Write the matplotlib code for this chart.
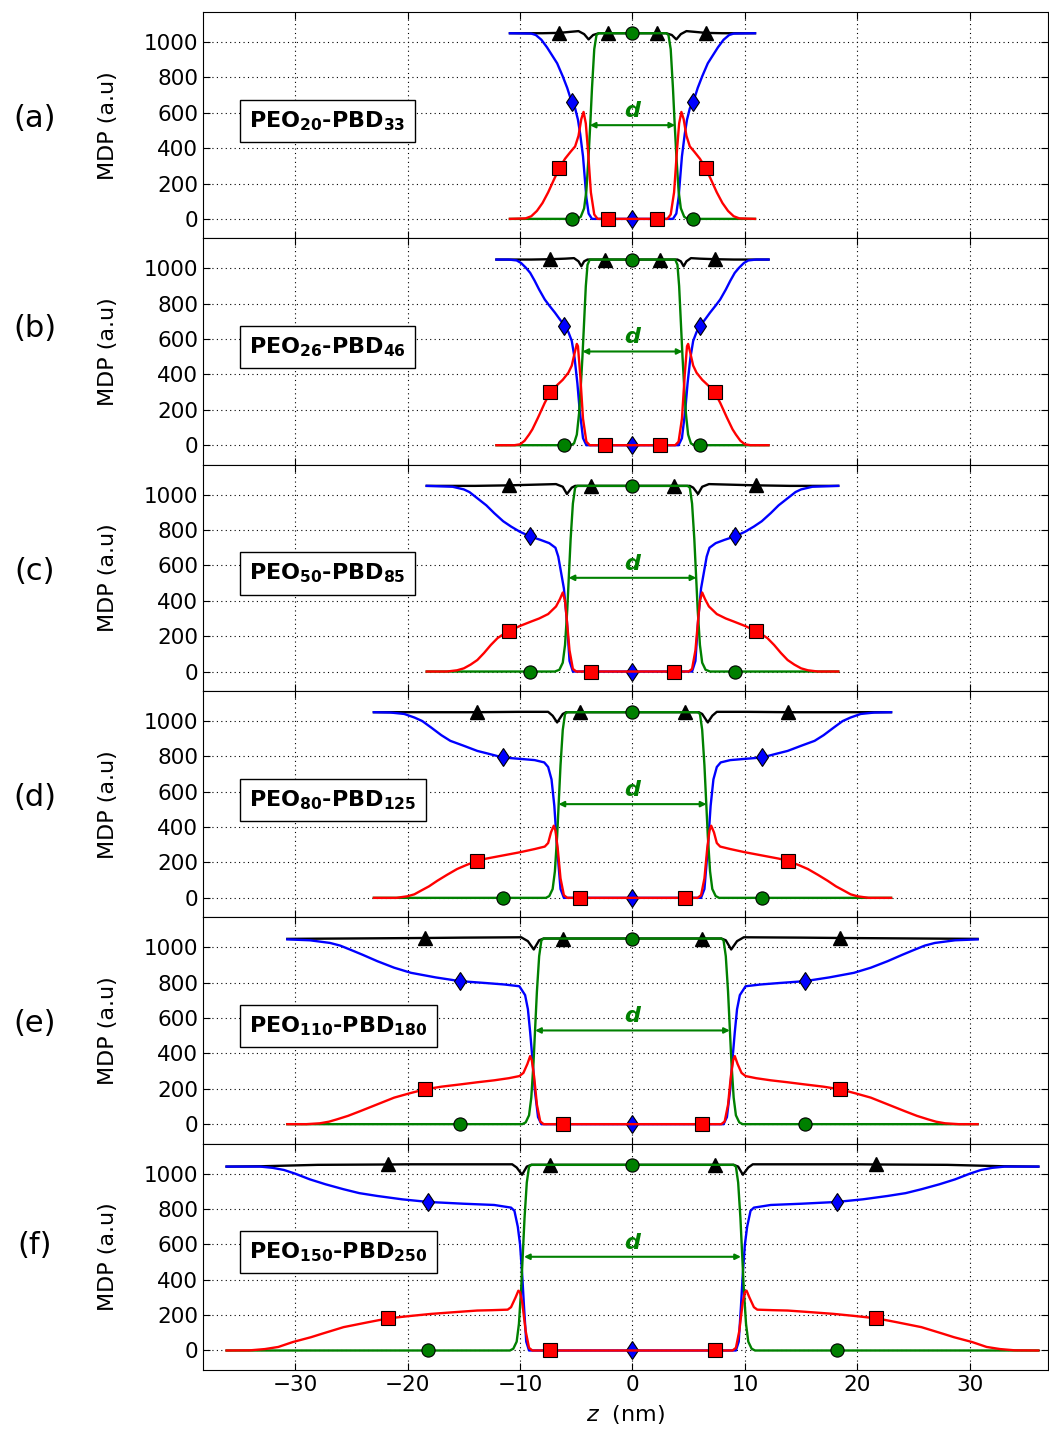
import numpy as np
import matplotlib
matplotlib.use('Agg')
import matplotlib.pyplot as plt

# half profiles (z >= 0); the profiles are symmetric in z
a_black = [(0, 1050), (2.2, 1050), (3.0, 1050), (3.5, 1040), (3.9, 1015), (4.3, 1045), (4.8, 1062), (5.5, 1058), (6.5, 1052), (8.0, 1050), (10.9, 1050)]
a_blue = [(0, 0), (3.6, 0), (3.9, 30), (4.1, 120), (4.4, 354), (4.65, 480), (4.85, 561), (5.1, 625), (5.4, 660), (5.8, 740), (6.2, 806), (6.7, 880), (7.1, 920), (7.6, 970), (8.1, 1013), (8.6, 1040), (9.0, 1048), (10.9, 1050)]
a_green = [(0, 1050), (3.0, 1050), (3.2, 1040), (3.4, 960), (3.6, 740), (3.75, 540), (3.9, 360), (4.1, 160), (4.3, 60), (4.6, 12), (4.9, 0), (5.4, 0), (10.9, 0)]
a_red = [(0, 0), (2.2, 0), (3.1, 0), (3.4, 25), (3.7, 150), (3.95, 380), (4.15, 540), (4.35, 605), (4.55, 565), (4.8, 470), (5.1, 410), (5.5, 380), (6.0, 340), (6.5, 288), (7.0, 220), (7.5, 150), (8.0, 90), (8.5, 45), (9.0, 15), (9.5, 3), (10.9, 0)]

b_black = [(0, 1050), (2.45, 1050), (4.0, 1050), (4.3, 1040), (4.55, 1012), (4.8, 1040), (5.2, 1058), (6.0, 1055), (7.3, 1052), (9.0, 1050), (12.1, 1050)]
b_blue = [(0, 0), (4.1, 0), (4.4, 40), (4.7, 200), (4.9, 350), (5.15, 494), (5.4, 590), (5.7, 640), (6.05, 677), (6.5, 715), (6.9, 750), (7.4, 790), (7.8, 824), (8.3, 880), (8.7, 930), (9.1, 975), (9.5, 1005), (9.9, 1030), (10.3, 1045), (11.0, 1050), (12.1, 1050)]
b_green = [(0, 1050), (3.8, 1050), (4.0, 1020), (4.15, 900), (4.3, 700), (4.45, 500), (4.6, 330), (4.75, 180), (4.95, 60), (5.2, 10), (5.5, 0), (6.05, 0), (12.1, 0)]
b_red = [(0, 0), (2.45, 0), (3.8, 0), (4.1, 20), (4.4, 150), (4.65, 400), (4.85, 560), (4.95, 573), (5.15, 520), (5.4, 450), (5.7, 410), (6.2, 370), (6.7, 340), (7.3, 300), (7.8, 240), (8.4, 156), (8.9, 90), (9.2, 60), (9.6, 25), (10.0, 5), (10.5, 0), (12.1, 0)]

c_black = [(0, 1050), (3.65, 1050), (5.1, 1050), (5.4, 1040), (5.83, 1004), (6.2, 1045), (6.8, 1060), (8.0, 1058), (10.95, 1053), (14.0, 1050), (18.3, 1050)]
c_blue = [(0, 0), (5.3, 0), (5.6, 60), (5.85, 300), (6.1, 470), (6.35, 560), (6.6, 650), (6.85, 700), (7.4, 726), (8.2, 745), (9.1, 764), (10.0, 790), (10.8, 820), (11.5, 850), (12.3, 896), (13.0, 940), (13.8, 980), (14.5, 1015), (15.0, 1030), (16.0, 1045), (18.3, 1050)]
c_green = [(0, 1050), (4.9, 1050), (5.1, 1040), (5.3, 950), (5.5, 750), (5.65, 550), (5.8, 350), (6.0, 150), (6.2, 50), (6.5, 10), (6.9, 0), (9.1, 0), (18.3, 0)]
c_red = [(0, 0), (3.65, 0), (5.0, 0), (5.3, 15), (5.6, 120), (5.85, 300), (6.0, 400), (6.2, 447), (6.45, 410), (6.8, 368), (7.5, 325), (8.3, 300), (9.0, 283), (10.0, 258), (10.95, 230), (11.5, 210), (12.0, 189), (12.6, 150), (13.2, 105), (13.8, 65), (14.4, 39), (15.0, 18), (15.6, 7), (16.5, 0), (18.3, 0)]

d_black = [(0, 1050), (4.65, 1050), (5.9, 1050), (6.2, 1040), (6.7, 992), (7.1, 1030), (7.5, 1052), (10.0, 1052), (13.8, 1050), (23.0, 1050)]
d_blue = [(0, 0), (6.1, 0), (6.4, 50), (6.7, 280), (6.95, 520), (7.2, 670), (7.5, 740), (7.85, 766), (8.7, 779), (10.0, 786), (11.55, 794), (12.8, 815), (13.8, 831), (15.0, 860), (16.2, 888), (17.0, 920), (17.9, 963), (18.7, 1000), (19.4, 1020), (20.3, 1040), (21.5, 1048), (23.0, 1050)]
d_green = [(0, 1050), (5.8, 1050), (6.0, 1040), (6.2, 950), (6.4, 750), (6.55, 550), (6.7, 350), (6.9, 150), (7.1, 50), (7.4, 10), (7.7, 0), (11.55, 0), (23.0, 0)]
d_red = [(0, 0), (4.65, 0), (5.8, 0), (6.1, 15), (6.4, 110), (6.65, 280), (6.85, 380), (7.0, 408), (7.25, 370), (7.5, 310), (7.8, 290), (8.7, 276), (10.0, 258), (11.5, 240), (13.0, 222), (13.8, 210), (14.8, 185), (15.6, 163), (16.5, 130), (17.35, 97), (18.1, 65), (18.8, 41), (19.4, 20), (20.0, 9), (21.0, 0), (23.0, 0)]

e_black = [(0, 1050), (6.2, 1050), (7.9, 1050), (8.3, 1040), (8.78, 988), (9.3, 1035), (9.9, 1057), (15.0, 1055), (18.45, 1053), (30.7, 1048)]
e_blue = [(0, 0), (8.1, 0), (8.4, 40), (8.7, 200), (8.9, 370), (9.1, 520), (9.3, 650), (9.55, 730), (10.06, 780), (11.4, 790), (13.0, 798), (15.35, 809), (17.5, 830), (19.7, 856), (21.2, 885), (22.7, 922), (24.0, 958), (25.1, 987), (26.0, 1010), (26.9, 1025), (28.7, 1040), (30.7, 1045)]
e_green = [(0, 1050), (7.9, 1050), (8.1, 1040), (8.3, 950), (8.5, 750), (8.65, 550), (8.8, 350), (9.0, 150), (9.2, 50), (9.5, 10), (9.8, 0), (15.35, 0), (30.7, 0)]
e_red = [(0, 0), (6.2, 0), (7.9, 0), (8.2, 15), (8.5, 110), (8.75, 270), (8.95, 360), (9.1, 385), (9.35, 340), (9.7, 290), (10.06, 272), (11.0, 260), (12.3, 248), (13.8, 237), (15.3, 225), (17.0, 212), (18.45, 197), (19.8, 175), (21.2, 150), (22.7, 112), (24.2, 74), (25.3, 47), (26.3, 27), (27.0, 14), (27.8, 5), (29.0, 0), (30.7, 0)]

f_black = [(0, 1050), (7.3, 1050), (9.0, 1050), (9.4, 1040), (9.82, 994), (10.3, 1035), (10.7, 1053), (20.0, 1053), (21.7, 1052), (28.0, 1050), (33.0, 1042), (36.1, 1040)]
f_blue = [(0, 0), (9.2, 0), (9.45, 50), (9.65, 250), (9.8, 420), (10.0, 600), (10.2, 700), (10.5, 790), (10.8, 808), (12.3, 823), (15.0, 830), (18.15, 840), (20.5, 855), (22.7, 874), (24.3, 890), (25.7, 912), (27.3, 940), (28.7, 968), (30.0, 1000), (31.0, 1021), (32.0, 1033), (33.1, 1040), (36.1, 1040)]
f_green = [(0, 1050), (9.0, 1050), (9.2, 1040), (9.4, 950), (9.6, 750), (9.75, 550), (9.9, 350), (10.1, 150), (10.3, 50), (10.6, 10), (10.9, 0), (18.15, 0), (36.1, 0)]
f_red = [(0, 0), (7.3, 0), (8.9, 0), (9.2, 15), (9.5, 110), (9.8, 270), (10.0, 330), (10.15, 338), (10.4, 300), (10.8, 245), (11.1, 231), (12.5, 228), (13.8, 226), (16.0, 216), (17.9, 207), (19.8, 195), (21.7, 182), (23.5, 160), (25.7, 132), (27.6, 95), (28.6, 75), (30.2, 48), (31.5, 20), (32.7, 8), (34.0, 1), (36.1, 0)]

# marker positions (|z|) : triangles/squares and circles/diamonds
tri_marks = [[2.2, 6.5], [2.45, 7.3], [3.65, 10.95], [4.65, 13.8], [6.2, 18.45], [7.3, 21.7]]
circ_marks = [[0, 5.4], [0, 6.05], [0, 9.1], [0, 11.55], [0, 15.35], [0, 18.15]]

# core thickness d (half width)
d_half = [3.8, 4.45, 5.68, 6.58, 8.66, 9.65]

panels = ['(a)', '(b)', '(c)', '(d)', '(e)', '(f)']
n_peo = [20, 26, 50, 80, 110, 150]
n_pbd = [33, 46, 85, 125, 180, 250]

blacks = [a_black, b_black, c_black, d_black, e_black, f_black]
blues = [a_blue, b_blue, c_blue, d_blue, e_blue, f_blue]
greens = [a_green, b_green, c_green, d_green, e_green, f_green]
reds = [a_red, b_red, c_red, d_red, e_red, f_red]


def mirror(half):
    z = [-p[0] for p in half[::-1] if p[0] > 0] + [p[0] for p in half]
    v = [p[1] for p in half[::-1] if p[0] > 0] + [p[1] for p in half]
    return np.array(z), np.array(v)


def marks_idx(z, marks):
    return [i for i, zz in enumerate(z) if np.any(np.isclose(abs(zz), marks))]


fig, axes = plt.subplots(6, 1, figsize=(10.49, 14.30), dpi=100, sharex=True)
plt.subplots_adjust(left=0.1935, right=0.9995, top=0.9916, bottom=0.042, hspace=0)

green = (0, 0.5, 0)
lab_y = [0.53, 0.6, 0.53, 0.53, 0.53, 0.55]
for k, ax in enumerate(axes):
    z, v = mirror(blacks[k])
    ax.plot(z, v, '-', color='k', lw=1.7, marker='^', ms=9.5, mec='k',
            markevery=marks_idx(z, tri_marks[k]), zorder=3)
    z, v = mirror(blues[k])
    ax.plot(z, v, '-', color='b', lw=1.7, marker='d', ms=9.5, mec='k', mew=0.8,
            markevery=marks_idx(z, circ_marks[k]), zorder=4)
    z, v = mirror(greens[k])
    ax.plot(z, v, '-', color=green, lw=1.7, marker='o', ms=9.5, mec='k', mew=0.8,
            markevery=marks_idx(z, circ_marks[k]), zorder=5)
    z, v = mirror(reds[k])
    ax.plot(z, v, '-', color='r', lw=1.7, marker='s', ms=9.5, mec='k', mew=0.8,
            markevery=marks_idx(z, tri_marks[k]), zorder=6)

    ax.annotate('', xy=(-d_half[k], 530), xytext=(d_half[k], 530),
                arrowprops=dict(arrowstyle='<|-|>', color=green, lw=1.5,
                                mutation_scale=8, shrinkA=0, shrinkB=0), zorder=7)
    ax.text(0, 610, 'd', color=green, fontsize=16, fontweight='bold',
            style='italic', ha='center', va='center', zorder=7)

    ax.text(-34.1, 555, 'PEO$_{\\mathbf{%d}}$-PBD$_{\\mathbf{%d}}$' % (n_peo[k], n_pbd[k]),
            fontsize=16, fontweight='bold', ha='left', va='center', zorder=8,
            bbox=dict(boxstyle='square,pad=0.42', fc='white', ec='k', lw=1))

    ax.text(-0.199, lab_y[k], panels[k], transform=ax.transAxes, fontsize=22,
            ha='center', va='center')

    ax.set_xlim(-38.2, 37.0)
    ax.set_ylim(-110, 1170)
    ax.set_yticks([0, 200, 400, 600, 800, 1000])
    ax.set_xticks([-30, -20, -10, 0, 10, 20, 30])
    ax.grid(True, color='k', linestyle=(0, (1, 3)), linewidth=0.8)
    ax.tick_params(direction='in', top=True, right=True, labelsize=15.5, length=5)
    ax.set_ylabel('MDP (a.u)', fontsize=16)
    ax.yaxis.set_label_coords(-0.1, 0.5)

axes[-1].set_xlabel('$z$  (nm)', fontsize=16, labelpad=6)
plt.savefig('out.png', dpi=100)
